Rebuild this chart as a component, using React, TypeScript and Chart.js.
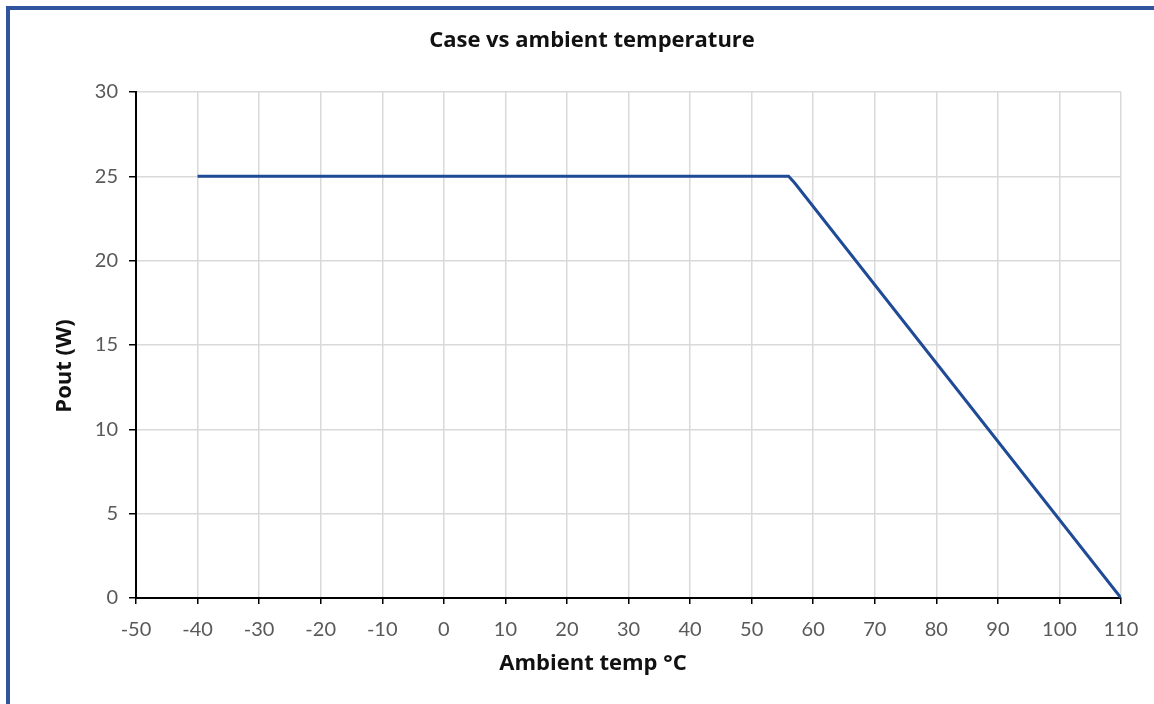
import React, { useEffect, useRef } from "react";
import { Chart, registerables } from "chart.js";

Chart.register(...registerables);

const chartTitle = "Case vs ambient temperature";
const xAxisTitle = "Ambient temp °C";
const yAxisTitle = "Pout (W)";
const seriesLabel = "Pout";
const ambientTemps = [-40, 56, 57, 110];
const poutValues = [25, 25, 24.6, 0];
const xMin = -50;
const xMax = 110;
const xStep = 10;
const yMin = 0;
const yMax = 30;
const yStep = 5;

const FONT = "Lato, 'Open Sans', sans-serif";
const BOLD_FONT = "'Open Sans', Lato, sans-serif";

const framePlugin = {
  id: "frameAndTitles",
  afterDraw(chart: any) {
    const ctx = chart.ctx;
    ctx.save();
    // frame
    ctx.fillStyle = "#2F559E";
    ctx.fillRect(6, 6, 4, chart.height - 6);
    ctx.fillRect(6, 6, chart.width - 6, 4);
    // titles
    ctx.fillStyle = "#111111";
    ctx.textAlign = "center";
    ctx.textBaseline = "middle";
    ctx.font = `bold 22px ${BOLD_FONT}`;
    ctx.fillText(chartTitle, 592, 41);
    ctx.fillText(xAxisTitle, 593, 664);
    ctx.translate(65, 366);
    ctx.rotate(-Math.PI / 2);
    ctx.fillText(yAxisTitle, 0, 0);
    ctx.restore();
  },
};

export default function App() {
  const ref = useRef<HTMLCanvasElement | null>(null);

  useEffect(() => {
    document.body.style.margin = "0";
    const canvas = ref.current;
    if (!canvas) return;
    const chart = new Chart(canvas, {
      type: "line",
      data: {
        datasets: [
          {
            label: seriesLabel,
            data: ambientTemps.map((x, i) => ({ x, y: poutValues[i] })),
            borderColor: "#1F4B96",
            borderWidth: 3,
            pointRadius: 0,
            tension: 0,
            fill: false,
          },
        ],
      },
      options: {
        animation: false,
        responsive: false,
        layout: { padding: { left: 0, right: 33, top: 92, bottom: 0 } },
        plugins: {
          legend: { display: false },
          tooltip: { enabled: false },
          title: { display: false },
        },
        scales: {
          x: {
            type: "linear",
            min: xMin,
            max: xMax,
            afterFit(scale: any) {
              scale.height = 106;
            },
            ticks: {
              stepSize: xStep,
              color: "#595959",
              padding: 14,
              font: { family: FONT, size: 20 },
            },
            grid: {
              color: "#D9D9D9",
              lineWidth: 1.5,
              tickColor: "#000000",
              tickLength: 6,
              drawTicks: true,
            },
            border: { color: "#000000", width: 2 },
            title: { display: false },
          },
          y: {
            type: "linear",
            min: yMin,
            max: yMax,
            afterFit(scale: any) {
              scale.width = 136;
            },
            ticks: {
              stepSize: yStep,
              color: "#595959",
              padding: 11,
              font: { family: FONT, size: 20 },
            },
            grid: {
              color: "#D9D9D9",
              lineWidth: 1.5,
              tickColor: "#000000",
              tickLength: 7,
            },
            border: { color: "#000000", width: 2 },
            title: { display: false },
          },
        },
      },
      plugins: [framePlugin],
    });
    return () => chart.destroy();
  }, []);

  return (
    <div style={{ width: 1154, height: 704 }}>
      <canvas ref={ref} width={1154} height={704} style={{ display: "block" }} />
    </div>
  );
}
